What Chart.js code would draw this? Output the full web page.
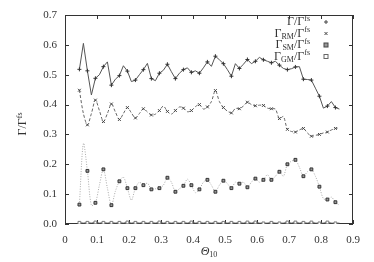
<!DOCTYPE html>
<html>
<head>
<meta charset="utf-8">
<script src="https://cdn.jsdelivr.net/npm/chart.js@4.4.1/dist/chart.umd.min.js"></script>
<style>
    html, body { margin: 0; padding: 0; background: #fff; }
    #wrap { width: 374px; height: 262px; position: relative; }
</style>
</head>
<body>
<div id="wrap"><canvas id="chart"></canvas></div>
<script>
// theta grid (markers on every other point)
var theta = [0.045, 0.0575, 0.07, 0.0825, 0.095, 0.1075, 0.12, 0.1325, 0.145, 0.1575,
    0.17, 0.1825, 0.195, 0.2075, 0.22, 0.2325, 0.245, 0.2575, 0.27, 0.2825,
    0.295, 0.3075, 0.32, 0.3325, 0.345, 0.3575, 0.37, 0.3825, 0.395, 0.4075,
    0.42, 0.4325, 0.445, 0.4575, 0.47, 0.4825, 0.495, 0.5075, 0.52, 0.5325,
    0.545, 0.5575, 0.57, 0.5825, 0.595, 0.6075, 0.62, 0.6325, 0.645, 0.6575,
    0.67, 0.6825, 0.695, 0.7075, 0.72, 0.7325, 0.745, 0.7575, 0.77, 0.7825,
    0.795, 0.8075, 0.82, 0.8325, 0.845, 0.8575];

var gammaTotal = [0.518, 0.605, 0.513, 0.432, 0.488, 0.500, 0.527, 0.543, 0.465, 0.485,
    0.497, 0.530, 0.512, 0.477, 0.482, 0.500, 0.517, 0.538, 0.487, 0.480,
    0.505, 0.515, 0.535, 0.510, 0.487, 0.505, 0.517, 0.523, 0.508, 0.513,
    0.505, 0.523, 0.543, 0.528, 0.562, 0.550, 0.537, 0.517, 0.495, 0.537,
    0.521, 0.535, 0.551, 0.537, 0.545, 0.558, 0.550, 0.545, 0.540, 0.545,
    0.532, 0.521, 0.517, 0.520, 0.526, 0.527, 0.485, 0.484, 0.482, 0.455,
    0.428, 0.388, 0.395, 0.410, 0.390, 0.385];

var gammaRM = [0.448, 0.370, 0.332, 0.370, 0.415, 0.380, 0.343, 0.370, 0.402, 0.375,
    0.350, 0.370, 0.390, 0.372, 0.355, 0.370, 0.386, 0.375, 0.365, 0.368,
    0.380, 0.395, 0.377, 0.368, 0.380, 0.392, 0.388, 0.376, 0.380, 0.393,
    0.400, 0.385, 0.392, 0.410, 0.447, 0.410, 0.390, 0.378, 0.372, 0.387,
    0.386, 0.395, 0.408, 0.400, 0.396, 0.398, 0.397, 0.388, 0.386, 0.385,
    0.353, 0.360, 0.317, 0.310, 0.308, 0.315, 0.320, 0.305, 0.294, 0.297,
    0.300, 0.305, 0.308, 0.315, 0.320, 0.322];

var gammaSM = [0.065, 0.270, 0.178, 0.062, 0.071, 0.130, 0.183, 0.120, 0.063, 0.110,
    0.143, 0.157, 0.120, 0.080, 0.120, 0.140, 0.130, 0.137, 0.116, 0.118,
    0.120, 0.130, 0.155, 0.140, 0.108, 0.118, 0.128, 0.150, 0.130, 0.105,
    0.116, 0.140, 0.148, 0.130, 0.108, 0.130, 0.145, 0.135, 0.120, 0.140,
    0.135, 0.140, 0.123, 0.140, 0.152, 0.140, 0.148, 0.165, 0.148, 0.160,
    0.175, 0.160, 0.200, 0.210, 0.215, 0.190, 0.160, 0.175, 0.183, 0.160,
    0.125, 0.085, 0.082, 0.090, 0.073, 0.063];

var gammaGM = [0.004, 0.003, 0.004, 0.003, 0.005, 0.003, 0.004, 0.003, 0.004, 0.003,
    0.004, 0.003, 0.005, 0.003, 0.004, 0.003, 0.004, 0.003, 0.004, 0.003,
    0.005, 0.003, 0.004, 0.003, 0.004, 0.003, 0.004, 0.003, 0.005, 0.003,
    0.004, 0.003, 0.004, 0.003, 0.004, 0.003, 0.004, 0.003, 0.004, 0.003,
    0.004, 0.003, 0.005, 0.003, 0.005, 0.003, 0.002, 0.003, 0.004, 0.003,
    0.002, 0.003, 0.005, 0.003, 0.005, 0.003, 0.004, 0.003, 0.005, 0.003,
    0.002, 0.003, 0.005, 0.003, 0.002, 0.003];

// legend rows: [text, mode] with mode 1 = superscript, -1 = subscript
var legendRows = [
    [['Γ/Γ', 0], ['fs', 1]],
    [['Γ', 0], ['RM', -1], ['/Γ', 0], ['fs', 1]],
    [['Γ', 0], ['SM', -1], ['/Γ', 0], ['fs', 1]],
    [['Γ', 0], ['GM', -1], ['/Γ', 0], ['fs', 1]]
];
var yTitle = [['Γ/Γ', 0], ['fs', 1]];
var xTitle = [['Θ', 2], ['10', -1]];

var serif = '"Liberation Serif", "DejaVu Serif", serif';

function pts(arr) {
    return theta.map((t, i) => ({ x: t, y: arr[i] }));
}

function everyOther(r) {
    return ctx => (ctx.dataIndex % 2 === 0 ? r : 0);
}

function partFont(mode) {
    if (mode === 2) return 'italic 12px ' + serif;
    return (mode === 0 ? '12px ' : '8px ') + serif;
}

function richWidth(ctx, parts) {
    var w = 0;
    parts.forEach(p => {
        ctx.font = partFont(p[1]);
        w += ctx.measureText(p[0]).width;
    });
    return w;
}

function drawRich(ctx, parts, x, y) {
    ctx.textBaseline = 'middle';
    ctx.textAlign = 'left';
    parts.forEach(p => {
        ctx.font = partFont(p[1]);
        var dy = p[1] === 1 ? -3.5 : (p[1] === -1 ? 3 : 0);
        ctx.fillText(p[0], x, y + dy);
        x += ctx.measureText(p[0]).width;
    });
}

const frame = {
    id: 'frame',
    beforeDatasetsDraw(chart) {
        const { ctx, chartArea: a, scales } = chart;
        ctx.save();
        ctx.strokeStyle = '#333';
        ctx.lineWidth = 1;
        ctx.strokeRect(a.left + 0.5, a.top + 0.5, a.right - a.left - 1, a.bottom - a.top - 1);
        ctx.beginPath();
        scales.x.ticks.forEach(t => {
            var px = Math.round(scales.x.getPixelForValue(t.value)) + 0.5;
            ctx.moveTo(px, a.bottom); ctx.lineTo(px, a.bottom - 4);
            ctx.moveTo(px, a.top); ctx.lineTo(px, a.top + 4);
        });
        scales.y.ticks.forEach(t => {
            var py = Math.round(scales.y.getPixelForValue(t.value)) + 0.5;
            ctx.moveTo(a.left, py); ctx.lineTo(a.left + 4, py);
            ctx.moveTo(a.right, py); ctx.lineTo(a.right - 4, py);
        });
        ctx.stroke();
        ctx.restore();
    },
    afterDraw(chart) {
        const { ctx } = chart;
        ctx.save();
        ctx.fillStyle = '#333';

        // legend, top right inside the frame
        var rowY = [22, 33.5, 45, 56.5];
        legendRows.forEach((row, i) => {
            var w = richWidth(ctx, row);
            drawRich(ctx, row, 310 - w, rowY[i]);
        });
        var sx = 326;
        ctx.strokeStyle = '#444';
        ctx.lineWidth = 1;
        ctx.beginPath();
        ctx.moveTo(sx - 2, rowY[0]); ctx.lineTo(sx + 2, rowY[0]);
        ctx.moveTo(sx, rowY[0] - 2); ctx.lineTo(sx, rowY[0] + 2);
        ctx.moveTo(sx - 1.5, rowY[1] - 1.5); ctx.lineTo(sx + 1.5, rowY[1] + 1.5);
        ctx.moveTo(sx - 1.5, rowY[1] + 1.5); ctx.lineTo(sx + 1.5, rowY[1] - 1.5);
        ctx.stroke();
        ctx.fillStyle = '#999';
        ctx.fillRect(sx - 2, rowY[2] - 2, 4, 4);
        ctx.strokeRect(sx - 2, rowY[2] - 2, 4, 4);
        ctx.strokeStyle = '#666';
        ctx.strokeRect(sx - 2, rowY[3] - 2, 4, 4);

        // axis titles
        ctx.fillStyle = '#333';
        var w = richWidth(ctx, yTitle);
        ctx.translate(23, 124);
        ctx.rotate(-Math.PI / 2);
        drawRich(ctx, yTitle, -w / 2, 0);
        ctx.setTransform(1, 0, 0, 1, 0, 0);
        w = richWidth(ctx, xTitle);
        drawRich(ctx, xTitle, 209 - w / 2, 252);
        ctx.restore();
    }
};

new Chart(document.getElementById('chart'), {
    type: 'line',
    data: {
        datasets: [
            {
                label: 'G',
                data: pts(gammaTotal),
                borderColor: '#555',
                borderWidth: 1,
                tension: 0,
                pointStyle: 'cross',
                pointRadius: everyOther(2),
                pointBorderColor: '#333',
                pointBorderWidth: 1
            },
            {
                label: 'RM',
                data: pts(gammaRM),
                borderColor: '#666',
                borderWidth: 1,
                borderDash: [3, 2],
                tension: 0.3,
                pointStyle: 'crossRot',
                pointRadius: everyOther(2),
                pointBorderColor: '#444',
                pointBorderWidth: 1
            },
            {
                label: 'SM',
                data: pts(gammaSM),
                borderColor: '#aaa',
                borderWidth: 1,
                borderDash: [1, 1.5],
                tension: 0.3,
                pointStyle: 'rect',
                pointRadius: everyOther(2),
                pointBackgroundColor: '#999',
                pointBorderColor: '#333',
                pointBorderWidth: 1
            },
            {
                label: 'GM',
                data: pts(gammaGM),
                borderColor: '#555',
                borderWidth: 1,
                tension: 0,
                pointStyle: 'rect',
                pointRadius: everyOther(2),
                pointBackgroundColor: '#fff',
                pointBorderColor: '#777',
                pointBorderWidth: 1
            }
        ]
    },
    options: {
        responsive: true,
        maintainAspectRatio: false,
        animation: false,
        devicePixelRatio: 1,
        layout: { padding: { top: 15, right: 21, left: 0, bottom: 0 } },
        plugins: {
            legend: { display: false },
            tooltip: { enabled: false }
        },
        scales: {
            x: {
                type: 'linear',
                min: 0,
                max: 0.9,
                grid: { display: false, drawTicks: false },
                border: { display: false },
                ticks: {
                    stepSize: 0.1,
                    padding: 10,
                    color: '#333',
                    font: { family: serif, size: 11 },
                    callback: v => (v === 0 ? '0' : v.toFixed(1))
                },
                afterFit: s => { s.height = 38; }
            },
            y: {
                min: 0,
                max: 0.7,
                grid: { display: false, drawTicks: false },
                border: { display: false },
                ticks: {
                    stepSize: 0.1,
                    padding: 8,
                    color: '#333',
                    font: { family: serif, size: 11 },
                    callback: v => v.toFixed(1)
                },
                afterFit: s => { s.width = 65; }
            }
        }
    },
    plugins: [frame]
});
</script>
</body>
</html>
